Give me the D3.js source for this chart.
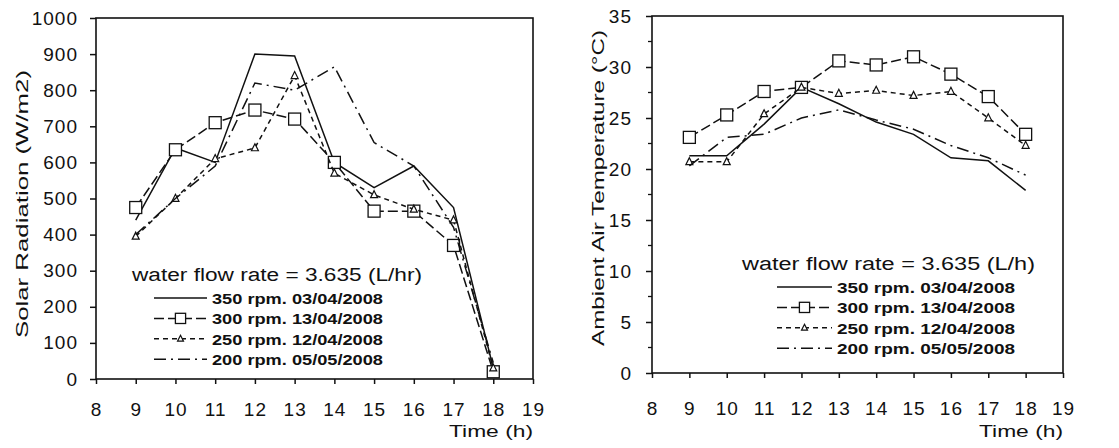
<!DOCTYPE html>
<html>
<head>
<meta charset="utf-8">
<script src="https://cdn.jsdelivr.net/npm/d3@7"></script>
<style>
    body { margin: 0; background: #fff; }
    svg text { font-family: "Liberation Sans", Arial, sans-serif; fill: #111; }
    .tick text { font-size: 19px; letter-spacing: 1px; }
    .axis path, .axis line { stroke: #111; stroke-width: 1.5; }
    .frame { fill: none; stroke: #111; stroke-width: 1.6; }
    .series { fill: none; stroke: #111; stroke-width: 1.5; }
    .axis-label { font-size: 17px; }
    .legend-title { font-size: 18px; }
    .legend-text { font-size: 15px; font-weight: bold; }
</style>
</head>
<body>
<svg id="chart" width="1119" height="448"></svg>
<script>
// hours of the day
const hours = [9, 10, 11, 12, 13, 14, 15, 16, 17, 18];
const seriesNames = ["350 rpm. 03/04/2008", "300 rpm. 13/04/2008", "250 rpm. 12/04/2008", "200 rpm. 05/05/2008"];

// solar radiation (W/m2)
const solar350 = [440, 640, 600, 900, 895, 600, 530, 590, 475, 30];
const solar300 = [475, 635, 710, 745, 720, 600, 465, 465, 370, 20];
const solar250 = [395, 500, 610, 640, 840, 570, 510, 470, 440, 30];
const solar200 = [400, 500, 590, 820, 800, 865, 655, 590, 420, 45];

// ambient air temperature (C)
const temp350 = [21.3, 21.3, 24.4, 28.0, 26.4, 24.6, 23.4, 21.1, 20.8, 17.9];
const temp300 = [23.1, 25.3, 27.6, 28.0, 30.6, 30.2, 31.0, 29.3, 27.1, 23.4];
const temp250 = [20.7, 20.7, 25.4, 28.0, 27.4, 27.7, 27.2, 27.6, 25.0, 22.3];
const temp200 = [20.3, 23.1, 23.4, 25.0, 25.8, 24.8, 23.9, 22.3, 21.1, 19.4];

const xTicks = [8, 9, 10, 11, 12, 13, 14, 15, 16, 17, 18, 19];

// line styles per series
const styles = [
    { dash: null, marker: null },
    { dash: "10,4", marker: "square" },
    { dash: "5,4", marker: "triangle" },
    { dash: "12,5,2,5", marker: null }
];

const svg = d3.select("#chart");

function drawPanel(cfg) {
    let g = svg.append("g");
    let x = d3.scaleLinear().domain([8, 19]).range([cfg.left, cfg.right]);
    let y = d3.scaleLinear().domain([0, cfg.yMax]).range([cfg.bottom, cfg.top]);

    // frame
    g.append("rect")
        .attr("class", "frame")
        .attr("x", cfg.left).attr("y", cfg.top)
        .attr("width", cfg.right - cfg.left).attr("height", cfg.bottom - cfg.top);

    let yAxis = d3.axisLeft(y).tickValues(cfg.yTicks).tickFormat(d3.format("d"))
        .tickSize(6).tickPadding(cfg.yPad).tickSizeOuter(0);
    g.append("g")
        .attr("class", "axis")
        .attr("transform", `translate(${cfg.left},0)`)
        .call(yAxis)
        .call(s => s.select(".domain").remove());

    if (cfg.yMinor) {
        g.append("g").selectAll("line").data(cfg.yMinor)
            .join("line")
            .attr("x1", cfg.left - 4).attr("x2", cfg.left)
            .attr("y1", d => y(d)).attr("y2", d => y(d))
            .attr("stroke", "#111").attr("stroke-width", 1.3);
    }

    let xAxis = d3.axisBottom(x).tickValues(xTicks).tickFormat(d3.format("d"))
        .tickSize(5).tickPadding(cfg.xPad).tickSizeOuter(0);
    g.append("g")
        .attr("class", "axis")
        .attr("transform", `translate(0,${cfg.bottom})`)
        .call(xAxis)
        .call(s => s.select(".domain").remove());

    g.append("text")
        .attr("class", "axis-label")
        .attr("text-anchor", "middle")
        .attr("transform", `translate(${cfg.yLabelX},${cfg.yLabelY}) rotate(-90)`)
        .attr("textLength", cfg.yLabelLen)
        .attr("lengthAdjust", "spacingAndGlyphs")
        .text(cfg.yLabel);

    g.append("text")
        .attr("class", "axis-label")
        .attr("x", cfg.right - 84).attr("y", 437)
        .attr("textLength", 84)
        .attr("lengthAdjust", "spacingAndGlyphs")
        .text("Time (h)");

    let line = d3.line().x(d => x(d[0])).y(d => y(d[1]));

    cfg.series.forEach((vals, i) => {
        let pts = hours.map((h, j) => [h, vals[j]]);
        g.append("path")
            .datum(pts)
            .attr("class", "series")
            .attr("stroke-dasharray", styles[i].dash)
            .attr("d", line);
        drawMarkers(g, pts.map(p => [x(p[0]), y(p[1])]), styles[i].marker);
    });

    // legend
    let lg = g.append("g").attr("transform", `translate(${cfg.legendX},${cfg.legendY})`);
    lg.append("text")
        .attr("class", "legend-title")
        .attr("x", cfg.legendTitleDx).attr("y", 0)
        .attr("textLength", cfg.legendTitleLen)
        .attr("lengthAdjust", "spacingAndGlyphs")
        .text(cfg.legendTitle);
    seriesNames.forEach((name, i) => {
        let yy = 23 + i * 20.4;
        lg.append("line")
            .attr("class", "series")
            .attr("x1", 0).attr("x2", cfg.sampleLen)
            .attr("y1", yy - 6).attr("y2", yy - 6)
            .attr("stroke-dasharray", styles[i].dash);
        drawMarkers(lg, [[cfg.sampleLen / 2, yy - 6]], styles[i].marker, 0.85);
        lg.append("text")
            .attr("class", "legend-text")
            .attr("x", cfg.sampleLen + 5).attr("y", yy)
            .attr("textLength", cfg.entryLen)
            .attr("lengthAdjust", "spacingAndGlyphs")
            .text(name);
    });
}

function drawMarkers(g, pts, marker, scale = 1) {
    if (marker === "square") {
        let s = 12 * scale;
        g.selectAll(null).data(pts).join("rect")
            .attr("x", d => d[0] - s / 2).attr("y", d => d[1] - s / 2)
            .attr("width", s).attr("height", s)
            .attr("fill", "#fff").attr("stroke", "#111").attr("stroke-width", 1.3);
    } else if (marker === "triangle") {
        let s = 7 * scale;
        g.selectAll(null).data(pts).join("path")
            .attr("d", d => `M${d[0]},${d[1] - s * 0.6}L${d[0] + s / 2},${d[1] + s * 0.4}L${d[0] - s / 2},${d[1] + s * 0.4}Z`)
            .attr("fill", "#fff").attr("stroke", "#111").attr("stroke-width", 1.2);
    }
}

drawPanel({
    left: 96, right: 533, top: 18, bottom: 379,
    yMax: 1000, yTicks: d3.range(0, 1001, 100), yPad: 12, xPad: 19,
    yLabel: "Solar Radiation (W/m2)", yLabelX: 28, yLabelY: 204, yLabelLen: 268,
    series: [solar350, solar300, solar250, solar200],
    legendX: 154, legendY: 281, legendTitleDx: -22, legendTitleLen: 290,
    sampleLen: 53, entryLen: 171,
    legendTitle: "water flow rate = 3.635 (L/hr)"
});

drawPanel({
    left: 652, right: 1063, top: 16, bottom: 373,
    yMax: 35, yTicks: d3.range(0, 36, 5), yMinor: d3.range(2.5, 35, 5), yPad: 14, xPad: 24,
    yLabel: "Ambient Air Temperature (\u00B0C)", yLabelX: 604, yLabelY: 188, yLabelLen: 316,
    series: [temp350, temp300, temp250, temp200],
    legendX: 777, legendY: 270, legendTitleDx: -35, legendTitleLen: 293,
    sampleLen: 55, entryLen: 178,
    legendTitle: "water flow rate = 3.635 (L/h)"
});
</script>
</body>
</html>
